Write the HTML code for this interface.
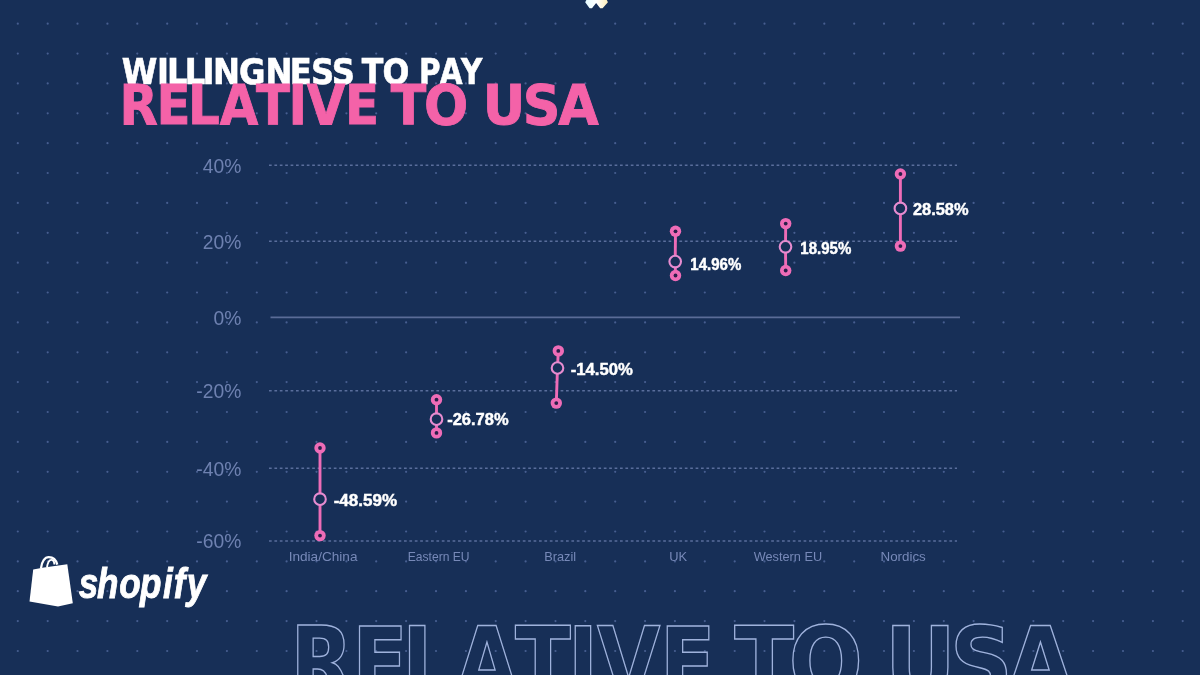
<!DOCTYPE html>
<html><head><meta charset="utf-8"><title>Willingness to pay relative to USA</title>
<style>html,body{margin:0;padding:0;background:#172f57;overflow:hidden}svg{display:block}</style></head>
<body>
<svg width="1200" height="675" viewBox="0 0 1200 675"><rect width="1200" height="675" fill="#172f57"/>
<g fill="#475e90"><circle cx="17.8" cy="23.7" r="1.1"/><circle cx="17.8" cy="53.6" r="1.1"/><circle cx="17.8" cy="83.4" r="1.1"/><circle cx="17.8" cy="113.3" r="1.1"/><circle cx="17.8" cy="143.2" r="1.1"/><circle cx="17.8" cy="173.0" r="1.1"/><circle cx="17.8" cy="202.9" r="1.1"/><circle cx="17.8" cy="232.8" r="1.1"/><circle cx="17.8" cy="262.7" r="1.1"/><circle cx="17.8" cy="292.5" r="1.1"/><circle cx="17.8" cy="322.4" r="1.1"/><circle cx="17.8" cy="352.3" r="1.1"/><circle cx="17.8" cy="382.1" r="1.1"/><circle cx="17.8" cy="412.0" r="1.1"/><circle cx="17.8" cy="441.9" r="1.1"/><circle cx="17.8" cy="471.8" r="1.1"/><circle cx="17.8" cy="501.6" r="1.1"/><circle cx="17.8" cy="531.5" r="1.1"/><circle cx="17.8" cy="561.4" r="1.1"/><circle cx="17.8" cy="591.2" r="1.1"/><circle cx="17.8" cy="621.1" r="1.1"/><circle cx="17.8" cy="651.0" r="1.1"/><circle cx="47.7" cy="23.7" r="1.1"/><circle cx="47.7" cy="53.6" r="1.1"/><circle cx="47.7" cy="83.4" r="1.1"/><circle cx="47.7" cy="113.3" r="1.1"/><circle cx="47.7" cy="143.2" r="1.1"/><circle cx="47.7" cy="173.0" r="1.1"/><circle cx="47.7" cy="202.9" r="1.1"/><circle cx="47.7" cy="232.8" r="1.1"/><circle cx="47.7" cy="262.7" r="1.1"/><circle cx="47.7" cy="292.5" r="1.1"/><circle cx="47.7" cy="322.4" r="1.1"/><circle cx="47.7" cy="352.3" r="1.1"/><circle cx="47.7" cy="382.1" r="1.1"/><circle cx="47.7" cy="412.0" r="1.1"/><circle cx="47.7" cy="441.9" r="1.1"/><circle cx="47.7" cy="471.8" r="1.1"/><circle cx="47.7" cy="501.6" r="1.1"/><circle cx="47.7" cy="531.5" r="1.1"/><circle cx="47.7" cy="561.4" r="1.1"/><circle cx="47.7" cy="591.2" r="1.1"/><circle cx="47.7" cy="621.1" r="1.1"/><circle cx="47.7" cy="651.0" r="1.1"/><circle cx="77.5" cy="23.7" r="1.1"/><circle cx="77.5" cy="53.6" r="1.1"/><circle cx="77.5" cy="83.4" r="1.1"/><circle cx="77.5" cy="113.3" r="1.1"/><circle cx="77.5" cy="143.2" r="1.1"/><circle cx="77.5" cy="173.0" r="1.1"/><circle cx="77.5" cy="202.9" r="1.1"/><circle cx="77.5" cy="232.8" r="1.1"/><circle cx="77.5" cy="262.7" r="1.1"/><circle cx="77.5" cy="292.5" r="1.1"/><circle cx="77.5" cy="322.4" r="1.1"/><circle cx="77.5" cy="352.3" r="1.1"/><circle cx="77.5" cy="382.1" r="1.1"/><circle cx="77.5" cy="412.0" r="1.1"/><circle cx="77.5" cy="441.9" r="1.1"/><circle cx="77.5" cy="471.8" r="1.1"/><circle cx="77.5" cy="501.6" r="1.1"/><circle cx="77.5" cy="531.5" r="1.1"/><circle cx="77.5" cy="561.4" r="1.1"/><circle cx="77.5" cy="591.2" r="1.1"/><circle cx="77.5" cy="621.1" r="1.1"/><circle cx="77.5" cy="651.0" r="1.1"/><circle cx="107.4" cy="23.7" r="1.1"/><circle cx="107.4" cy="53.6" r="1.1"/><circle cx="107.4" cy="83.4" r="1.1"/><circle cx="107.4" cy="113.3" r="1.1"/><circle cx="107.4" cy="143.2" r="1.1"/><circle cx="107.4" cy="173.0" r="1.1"/><circle cx="107.4" cy="202.9" r="1.1"/><circle cx="107.4" cy="232.8" r="1.1"/><circle cx="107.4" cy="262.7" r="1.1"/><circle cx="107.4" cy="292.5" r="1.1"/><circle cx="107.4" cy="322.4" r="1.1"/><circle cx="107.4" cy="352.3" r="1.1"/><circle cx="107.4" cy="382.1" r="1.1"/><circle cx="107.4" cy="412.0" r="1.1"/><circle cx="107.4" cy="441.9" r="1.1"/><circle cx="107.4" cy="471.8" r="1.1"/><circle cx="107.4" cy="501.6" r="1.1"/><circle cx="107.4" cy="531.5" r="1.1"/><circle cx="107.4" cy="561.4" r="1.1"/><circle cx="107.4" cy="591.2" r="1.1"/><circle cx="107.4" cy="621.1" r="1.1"/><circle cx="107.4" cy="651.0" r="1.1"/><circle cx="137.3" cy="23.7" r="1.1"/><circle cx="137.3" cy="53.6" r="1.1"/><circle cx="137.3" cy="83.4" r="1.1"/><circle cx="137.3" cy="113.3" r="1.1"/><circle cx="137.3" cy="143.2" r="1.1"/><circle cx="137.3" cy="173.0" r="1.1"/><circle cx="137.3" cy="202.9" r="1.1"/><circle cx="137.3" cy="232.8" r="1.1"/><circle cx="137.3" cy="262.7" r="1.1"/><circle cx="137.3" cy="292.5" r="1.1"/><circle cx="137.3" cy="322.4" r="1.1"/><circle cx="137.3" cy="352.3" r="1.1"/><circle cx="137.3" cy="382.1" r="1.1"/><circle cx="137.3" cy="412.0" r="1.1"/><circle cx="137.3" cy="441.9" r="1.1"/><circle cx="137.3" cy="471.8" r="1.1"/><circle cx="137.3" cy="501.6" r="1.1"/><circle cx="137.3" cy="531.5" r="1.1"/><circle cx="137.3" cy="561.4" r="1.1"/><circle cx="137.3" cy="591.2" r="1.1"/><circle cx="137.3" cy="621.1" r="1.1"/><circle cx="137.3" cy="651.0" r="1.1"/><circle cx="167.2" cy="23.7" r="1.1"/><circle cx="167.2" cy="53.6" r="1.1"/><circle cx="167.2" cy="83.4" r="1.1"/><circle cx="167.2" cy="113.3" r="1.1"/><circle cx="167.2" cy="143.2" r="1.1"/><circle cx="167.2" cy="173.0" r="1.1"/><circle cx="167.2" cy="202.9" r="1.1"/><circle cx="167.2" cy="232.8" r="1.1"/><circle cx="167.2" cy="262.7" r="1.1"/><circle cx="167.2" cy="292.5" r="1.1"/><circle cx="167.2" cy="322.4" r="1.1"/><circle cx="167.2" cy="352.3" r="1.1"/><circle cx="167.2" cy="382.1" r="1.1"/><circle cx="167.2" cy="412.0" r="1.1"/><circle cx="167.2" cy="441.9" r="1.1"/><circle cx="167.2" cy="471.8" r="1.1"/><circle cx="167.2" cy="501.6" r="1.1"/><circle cx="167.2" cy="531.5" r="1.1"/><circle cx="167.2" cy="561.4" r="1.1"/><circle cx="167.2" cy="591.2" r="1.1"/><circle cx="167.2" cy="621.1" r="1.1"/><circle cx="167.2" cy="651.0" r="1.1"/><circle cx="197.0" cy="23.7" r="1.1"/><circle cx="197.0" cy="53.6" r="1.1"/><circle cx="197.0" cy="83.4" r="1.1"/><circle cx="197.0" cy="113.3" r="1.1"/><circle cx="197.0" cy="143.2" r="1.1"/><circle cx="197.0" cy="173.0" r="1.1"/><circle cx="197.0" cy="202.9" r="1.1"/><circle cx="197.0" cy="232.8" r="1.1"/><circle cx="197.0" cy="262.7" r="1.1"/><circle cx="197.0" cy="292.5" r="1.1"/><circle cx="197.0" cy="322.4" r="1.1"/><circle cx="197.0" cy="352.3" r="1.1"/><circle cx="197.0" cy="382.1" r="1.1"/><circle cx="197.0" cy="412.0" r="1.1"/><circle cx="197.0" cy="441.9" r="1.1"/><circle cx="197.0" cy="471.8" r="1.1"/><circle cx="197.0" cy="501.6" r="1.1"/><circle cx="197.0" cy="531.5" r="1.1"/><circle cx="197.0" cy="561.4" r="1.1"/><circle cx="197.0" cy="591.2" r="1.1"/><circle cx="197.0" cy="621.1" r="1.1"/><circle cx="197.0" cy="651.0" r="1.1"/><circle cx="226.9" cy="23.7" r="1.1"/><circle cx="226.9" cy="53.6" r="1.1"/><circle cx="226.9" cy="83.4" r="1.1"/><circle cx="226.9" cy="113.3" r="1.1"/><circle cx="226.9" cy="143.2" r="1.1"/><circle cx="226.9" cy="173.0" r="1.1"/><circle cx="226.9" cy="202.9" r="1.1"/><circle cx="226.9" cy="232.8" r="1.1"/><circle cx="226.9" cy="262.7" r="1.1"/><circle cx="226.9" cy="292.5" r="1.1"/><circle cx="226.9" cy="322.4" r="1.1"/><circle cx="226.9" cy="352.3" r="1.1"/><circle cx="226.9" cy="382.1" r="1.1"/><circle cx="226.9" cy="412.0" r="1.1"/><circle cx="226.9" cy="441.9" r="1.1"/><circle cx="226.9" cy="471.8" r="1.1"/><circle cx="226.9" cy="501.6" r="1.1"/><circle cx="226.9" cy="531.5" r="1.1"/><circle cx="226.9" cy="561.4" r="1.1"/><circle cx="226.9" cy="591.2" r="1.1"/><circle cx="226.9" cy="621.1" r="1.1"/><circle cx="226.9" cy="651.0" r="1.1"/><circle cx="256.8" cy="23.7" r="1.1"/><circle cx="256.8" cy="53.6" r="1.1"/><circle cx="256.8" cy="83.4" r="1.1"/><circle cx="256.8" cy="113.3" r="1.1"/><circle cx="256.8" cy="143.2" r="1.1"/><circle cx="256.8" cy="173.0" r="1.1"/><circle cx="256.8" cy="202.9" r="1.1"/><circle cx="256.8" cy="232.8" r="1.1"/><circle cx="256.8" cy="262.7" r="1.1"/><circle cx="256.8" cy="292.5" r="1.1"/><circle cx="256.8" cy="322.4" r="1.1"/><circle cx="256.8" cy="352.3" r="1.1"/><circle cx="256.8" cy="382.1" r="1.1"/><circle cx="256.8" cy="412.0" r="1.1"/><circle cx="256.8" cy="441.9" r="1.1"/><circle cx="256.8" cy="471.8" r="1.1"/><circle cx="256.8" cy="501.6" r="1.1"/><circle cx="256.8" cy="531.5" r="1.1"/><circle cx="256.8" cy="561.4" r="1.1"/><circle cx="256.8" cy="591.2" r="1.1"/><circle cx="256.8" cy="621.1" r="1.1"/><circle cx="256.8" cy="651.0" r="1.1"/><circle cx="286.6" cy="23.7" r="1.1"/><circle cx="286.6" cy="53.6" r="1.1"/><circle cx="286.6" cy="83.4" r="1.1"/><circle cx="286.6" cy="113.3" r="1.1"/><circle cx="286.6" cy="143.2" r="1.1"/><circle cx="286.6" cy="173.0" r="1.1"/><circle cx="286.6" cy="202.9" r="1.1"/><circle cx="286.6" cy="232.8" r="1.1"/><circle cx="286.6" cy="262.7" r="1.1"/><circle cx="286.6" cy="292.5" r="1.1"/><circle cx="286.6" cy="322.4" r="1.1"/><circle cx="286.6" cy="352.3" r="1.1"/><circle cx="286.6" cy="382.1" r="1.1"/><circle cx="286.6" cy="412.0" r="1.1"/><circle cx="286.6" cy="441.9" r="1.1"/><circle cx="286.6" cy="471.8" r="1.1"/><circle cx="286.6" cy="501.6" r="1.1"/><circle cx="286.6" cy="531.5" r="1.1"/><circle cx="286.6" cy="561.4" r="1.1"/><circle cx="286.6" cy="591.2" r="1.1"/><circle cx="286.6" cy="621.1" r="1.1"/><circle cx="286.6" cy="651.0" r="1.1"/><circle cx="316.5" cy="23.7" r="1.1"/><circle cx="316.5" cy="53.6" r="1.1"/><circle cx="316.5" cy="83.4" r="1.1"/><circle cx="316.5" cy="113.3" r="1.1"/><circle cx="316.5" cy="143.2" r="1.1"/><circle cx="316.5" cy="173.0" r="1.1"/><circle cx="316.5" cy="202.9" r="1.1"/><circle cx="316.5" cy="232.8" r="1.1"/><circle cx="316.5" cy="262.7" r="1.1"/><circle cx="316.5" cy="292.5" r="1.1"/><circle cx="316.5" cy="322.4" r="1.1"/><circle cx="316.5" cy="352.3" r="1.1"/><circle cx="316.5" cy="382.1" r="1.1"/><circle cx="316.5" cy="412.0" r="1.1"/><circle cx="316.5" cy="441.9" r="1.1"/><circle cx="316.5" cy="471.8" r="1.1"/><circle cx="316.5" cy="501.6" r="1.1"/><circle cx="316.5" cy="531.5" r="1.1"/><circle cx="316.5" cy="561.4" r="1.1"/><circle cx="316.5" cy="591.2" r="1.1"/><circle cx="316.5" cy="621.1" r="1.1"/><circle cx="316.5" cy="651.0" r="1.1"/><circle cx="346.4" cy="23.7" r="1.1"/><circle cx="346.4" cy="53.6" r="1.1"/><circle cx="346.4" cy="83.4" r="1.1"/><circle cx="346.4" cy="113.3" r="1.1"/><circle cx="346.4" cy="143.2" r="1.1"/><circle cx="346.4" cy="173.0" r="1.1"/><circle cx="346.4" cy="202.9" r="1.1"/><circle cx="346.4" cy="232.8" r="1.1"/><circle cx="346.4" cy="262.7" r="1.1"/><circle cx="346.4" cy="292.5" r="1.1"/><circle cx="346.4" cy="322.4" r="1.1"/><circle cx="346.4" cy="352.3" r="1.1"/><circle cx="346.4" cy="382.1" r="1.1"/><circle cx="346.4" cy="412.0" r="1.1"/><circle cx="346.4" cy="441.9" r="1.1"/><circle cx="346.4" cy="471.8" r="1.1"/><circle cx="346.4" cy="501.6" r="1.1"/><circle cx="346.4" cy="531.5" r="1.1"/><circle cx="346.4" cy="561.4" r="1.1"/><circle cx="346.4" cy="591.2" r="1.1"/><circle cx="346.4" cy="621.1" r="1.1"/><circle cx="346.4" cy="651.0" r="1.1"/><circle cx="376.2" cy="23.7" r="1.1"/><circle cx="376.2" cy="53.6" r="1.1"/><circle cx="376.2" cy="83.4" r="1.1"/><circle cx="376.2" cy="113.3" r="1.1"/><circle cx="376.2" cy="143.2" r="1.1"/><circle cx="376.2" cy="173.0" r="1.1"/><circle cx="376.2" cy="202.9" r="1.1"/><circle cx="376.2" cy="232.8" r="1.1"/><circle cx="376.2" cy="262.7" r="1.1"/><circle cx="376.2" cy="292.5" r="1.1"/><circle cx="376.2" cy="322.4" r="1.1"/><circle cx="376.2" cy="352.3" r="1.1"/><circle cx="376.2" cy="382.1" r="1.1"/><circle cx="376.2" cy="412.0" r="1.1"/><circle cx="376.2" cy="441.9" r="1.1"/><circle cx="376.2" cy="471.8" r="1.1"/><circle cx="376.2" cy="501.6" r="1.1"/><circle cx="376.2" cy="531.5" r="1.1"/><circle cx="376.2" cy="561.4" r="1.1"/><circle cx="376.2" cy="591.2" r="1.1"/><circle cx="376.2" cy="621.1" r="1.1"/><circle cx="376.2" cy="651.0" r="1.1"/><circle cx="406.1" cy="23.7" r="1.1"/><circle cx="406.1" cy="53.6" r="1.1"/><circle cx="406.1" cy="83.4" r="1.1"/><circle cx="406.1" cy="113.3" r="1.1"/><circle cx="406.1" cy="143.2" r="1.1"/><circle cx="406.1" cy="173.0" r="1.1"/><circle cx="406.1" cy="202.9" r="1.1"/><circle cx="406.1" cy="232.8" r="1.1"/><circle cx="406.1" cy="262.7" r="1.1"/><circle cx="406.1" cy="292.5" r="1.1"/><circle cx="406.1" cy="322.4" r="1.1"/><circle cx="406.1" cy="352.3" r="1.1"/><circle cx="406.1" cy="382.1" r="1.1"/><circle cx="406.1" cy="412.0" r="1.1"/><circle cx="406.1" cy="441.9" r="1.1"/><circle cx="406.1" cy="471.8" r="1.1"/><circle cx="406.1" cy="501.6" r="1.1"/><circle cx="406.1" cy="531.5" r="1.1"/><circle cx="406.1" cy="561.4" r="1.1"/><circle cx="406.1" cy="591.2" r="1.1"/><circle cx="406.1" cy="621.1" r="1.1"/><circle cx="406.1" cy="651.0" r="1.1"/><circle cx="436.0" cy="23.7" r="1.1"/><circle cx="436.0" cy="53.6" r="1.1"/><circle cx="436.0" cy="83.4" r="1.1"/><circle cx="436.0" cy="113.3" r="1.1"/><circle cx="436.0" cy="143.2" r="1.1"/><circle cx="436.0" cy="173.0" r="1.1"/><circle cx="436.0" cy="202.9" r="1.1"/><circle cx="436.0" cy="232.8" r="1.1"/><circle cx="436.0" cy="262.7" r="1.1"/><circle cx="436.0" cy="292.5" r="1.1"/><circle cx="436.0" cy="322.4" r="1.1"/><circle cx="436.0" cy="352.3" r="1.1"/><circle cx="436.0" cy="382.1" r="1.1"/><circle cx="436.0" cy="412.0" r="1.1"/><circle cx="436.0" cy="441.9" r="1.1"/><circle cx="436.0" cy="471.8" r="1.1"/><circle cx="436.0" cy="501.6" r="1.1"/><circle cx="436.0" cy="531.5" r="1.1"/><circle cx="436.0" cy="561.4" r="1.1"/><circle cx="436.0" cy="591.2" r="1.1"/><circle cx="436.0" cy="621.1" r="1.1"/><circle cx="436.0" cy="651.0" r="1.1"/><circle cx="465.9" cy="23.7" r="1.1"/><circle cx="465.9" cy="53.6" r="1.1"/><circle cx="465.9" cy="83.4" r="1.1"/><circle cx="465.9" cy="113.3" r="1.1"/><circle cx="465.9" cy="143.2" r="1.1"/><circle cx="465.9" cy="173.0" r="1.1"/><circle cx="465.9" cy="202.9" r="1.1"/><circle cx="465.9" cy="232.8" r="1.1"/><circle cx="465.9" cy="262.7" r="1.1"/><circle cx="465.9" cy="292.5" r="1.1"/><circle cx="465.9" cy="322.4" r="1.1"/><circle cx="465.9" cy="352.3" r="1.1"/><circle cx="465.9" cy="382.1" r="1.1"/><circle cx="465.9" cy="412.0" r="1.1"/><circle cx="465.9" cy="441.9" r="1.1"/><circle cx="465.9" cy="471.8" r="1.1"/><circle cx="465.9" cy="501.6" r="1.1"/><circle cx="465.9" cy="531.5" r="1.1"/><circle cx="465.9" cy="561.4" r="1.1"/><circle cx="465.9" cy="591.2" r="1.1"/><circle cx="465.9" cy="621.1" r="1.1"/><circle cx="465.9" cy="651.0" r="1.1"/><circle cx="495.7" cy="23.7" r="1.1"/><circle cx="495.7" cy="53.6" r="1.1"/><circle cx="495.7" cy="83.4" r="1.1"/><circle cx="495.7" cy="113.3" r="1.1"/><circle cx="495.7" cy="143.2" r="1.1"/><circle cx="495.7" cy="173.0" r="1.1"/><circle cx="495.7" cy="202.9" r="1.1"/><circle cx="495.7" cy="232.8" r="1.1"/><circle cx="495.7" cy="262.7" r="1.1"/><circle cx="495.7" cy="292.5" r="1.1"/><circle cx="495.7" cy="322.4" r="1.1"/><circle cx="495.7" cy="352.3" r="1.1"/><circle cx="495.7" cy="382.1" r="1.1"/><circle cx="495.7" cy="412.0" r="1.1"/><circle cx="495.7" cy="441.9" r="1.1"/><circle cx="495.7" cy="471.8" r="1.1"/><circle cx="495.7" cy="501.6" r="1.1"/><circle cx="495.7" cy="531.5" r="1.1"/><circle cx="495.7" cy="561.4" r="1.1"/><circle cx="495.7" cy="591.2" r="1.1"/><circle cx="495.7" cy="621.1" r="1.1"/><circle cx="495.7" cy="651.0" r="1.1"/><circle cx="525.6" cy="23.7" r="1.1"/><circle cx="525.6" cy="53.6" r="1.1"/><circle cx="525.6" cy="83.4" r="1.1"/><circle cx="525.6" cy="113.3" r="1.1"/><circle cx="525.6" cy="143.2" r="1.1"/><circle cx="525.6" cy="173.0" r="1.1"/><circle cx="525.6" cy="202.9" r="1.1"/><circle cx="525.6" cy="232.8" r="1.1"/><circle cx="525.6" cy="262.7" r="1.1"/><circle cx="525.6" cy="292.5" r="1.1"/><circle cx="525.6" cy="322.4" r="1.1"/><circle cx="525.6" cy="352.3" r="1.1"/><circle cx="525.6" cy="382.1" r="1.1"/><circle cx="525.6" cy="412.0" r="1.1"/><circle cx="525.6" cy="441.9" r="1.1"/><circle cx="525.6" cy="471.8" r="1.1"/><circle cx="525.6" cy="501.6" r="1.1"/><circle cx="525.6" cy="531.5" r="1.1"/><circle cx="525.6" cy="561.4" r="1.1"/><circle cx="525.6" cy="591.2" r="1.1"/><circle cx="525.6" cy="621.1" r="1.1"/><circle cx="525.6" cy="651.0" r="1.1"/><circle cx="555.5" cy="23.7" r="1.1"/><circle cx="555.5" cy="53.6" r="1.1"/><circle cx="555.5" cy="83.4" r="1.1"/><circle cx="555.5" cy="113.3" r="1.1"/><circle cx="555.5" cy="143.2" r="1.1"/><circle cx="555.5" cy="173.0" r="1.1"/><circle cx="555.5" cy="202.9" r="1.1"/><circle cx="555.5" cy="232.8" r="1.1"/><circle cx="555.5" cy="262.7" r="1.1"/><circle cx="555.5" cy="292.5" r="1.1"/><circle cx="555.5" cy="322.4" r="1.1"/><circle cx="555.5" cy="352.3" r="1.1"/><circle cx="555.5" cy="382.1" r="1.1"/><circle cx="555.5" cy="412.0" r="1.1"/><circle cx="555.5" cy="441.9" r="1.1"/><circle cx="555.5" cy="471.8" r="1.1"/><circle cx="555.5" cy="501.6" r="1.1"/><circle cx="555.5" cy="531.5" r="1.1"/><circle cx="555.5" cy="561.4" r="1.1"/><circle cx="555.5" cy="591.2" r="1.1"/><circle cx="555.5" cy="621.1" r="1.1"/><circle cx="555.5" cy="651.0" r="1.1"/><circle cx="585.3" cy="23.7" r="1.1"/><circle cx="585.3" cy="53.6" r="1.1"/><circle cx="585.3" cy="83.4" r="1.1"/><circle cx="585.3" cy="113.3" r="1.1"/><circle cx="585.3" cy="143.2" r="1.1"/><circle cx="585.3" cy="173.0" r="1.1"/><circle cx="585.3" cy="202.9" r="1.1"/><circle cx="585.3" cy="232.8" r="1.1"/><circle cx="585.3" cy="262.7" r="1.1"/><circle cx="585.3" cy="292.5" r="1.1"/><circle cx="585.3" cy="322.4" r="1.1"/><circle cx="585.3" cy="352.3" r="1.1"/><circle cx="585.3" cy="382.1" r="1.1"/><circle cx="585.3" cy="412.0" r="1.1"/><circle cx="585.3" cy="441.9" r="1.1"/><circle cx="585.3" cy="471.8" r="1.1"/><circle cx="585.3" cy="501.6" r="1.1"/><circle cx="585.3" cy="531.5" r="1.1"/><circle cx="585.3" cy="561.4" r="1.1"/><circle cx="585.3" cy="591.2" r="1.1"/><circle cx="585.3" cy="621.1" r="1.1"/><circle cx="585.3" cy="651.0" r="1.1"/><circle cx="615.2" cy="23.7" r="1.1"/><circle cx="615.2" cy="53.6" r="1.1"/><circle cx="615.2" cy="83.4" r="1.1"/><circle cx="615.2" cy="113.3" r="1.1"/><circle cx="615.2" cy="143.2" r="1.1"/><circle cx="615.2" cy="173.0" r="1.1"/><circle cx="615.2" cy="202.9" r="1.1"/><circle cx="615.2" cy="232.8" r="1.1"/><circle cx="615.2" cy="262.7" r="1.1"/><circle cx="615.2" cy="292.5" r="1.1"/><circle cx="615.2" cy="322.4" r="1.1"/><circle cx="615.2" cy="352.3" r="1.1"/><circle cx="615.2" cy="382.1" r="1.1"/><circle cx="615.2" cy="412.0" r="1.1"/><circle cx="615.2" cy="441.9" r="1.1"/><circle cx="615.2" cy="471.8" r="1.1"/><circle cx="615.2" cy="501.6" r="1.1"/><circle cx="615.2" cy="531.5" r="1.1"/><circle cx="615.2" cy="561.4" r="1.1"/><circle cx="615.2" cy="591.2" r="1.1"/><circle cx="615.2" cy="621.1" r="1.1"/><circle cx="615.2" cy="651.0" r="1.1"/><circle cx="645.1" cy="23.7" r="1.1"/><circle cx="645.1" cy="53.6" r="1.1"/><circle cx="645.1" cy="83.4" r="1.1"/><circle cx="645.1" cy="113.3" r="1.1"/><circle cx="645.1" cy="143.2" r="1.1"/><circle cx="645.1" cy="173.0" r="1.1"/><circle cx="645.1" cy="202.9" r="1.1"/><circle cx="645.1" cy="232.8" r="1.1"/><circle cx="645.1" cy="262.7" r="1.1"/><circle cx="645.1" cy="292.5" r="1.1"/><circle cx="645.1" cy="322.4" r="1.1"/><circle cx="645.1" cy="352.3" r="1.1"/><circle cx="645.1" cy="382.1" r="1.1"/><circle cx="645.1" cy="412.0" r="1.1"/><circle cx="645.1" cy="441.9" r="1.1"/><circle cx="645.1" cy="471.8" r="1.1"/><circle cx="645.1" cy="501.6" r="1.1"/><circle cx="645.1" cy="531.5" r="1.1"/><circle cx="645.1" cy="561.4" r="1.1"/><circle cx="645.1" cy="591.2" r="1.1"/><circle cx="645.1" cy="621.1" r="1.1"/><circle cx="645.1" cy="651.0" r="1.1"/><circle cx="674.9" cy="23.7" r="1.1"/><circle cx="674.9" cy="53.6" r="1.1"/><circle cx="674.9" cy="83.4" r="1.1"/><circle cx="674.9" cy="113.3" r="1.1"/><circle cx="674.9" cy="143.2" r="1.1"/><circle cx="674.9" cy="173.0" r="1.1"/><circle cx="674.9" cy="202.9" r="1.1"/><circle cx="674.9" cy="232.8" r="1.1"/><circle cx="674.9" cy="262.7" r="1.1"/><circle cx="674.9" cy="292.5" r="1.1"/><circle cx="674.9" cy="322.4" r="1.1"/><circle cx="674.9" cy="352.3" r="1.1"/><circle cx="674.9" cy="382.1" r="1.1"/><circle cx="674.9" cy="412.0" r="1.1"/><circle cx="674.9" cy="441.9" r="1.1"/><circle cx="674.9" cy="471.8" r="1.1"/><circle cx="674.9" cy="501.6" r="1.1"/><circle cx="674.9" cy="531.5" r="1.1"/><circle cx="674.9" cy="561.4" r="1.1"/><circle cx="674.9" cy="591.2" r="1.1"/><circle cx="674.9" cy="621.1" r="1.1"/><circle cx="674.9" cy="651.0" r="1.1"/><circle cx="704.8" cy="23.7" r="1.1"/><circle cx="704.8" cy="53.6" r="1.1"/><circle cx="704.8" cy="83.4" r="1.1"/><circle cx="704.8" cy="113.3" r="1.1"/><circle cx="704.8" cy="143.2" r="1.1"/><circle cx="704.8" cy="173.0" r="1.1"/><circle cx="704.8" cy="202.9" r="1.1"/><circle cx="704.8" cy="232.8" r="1.1"/><circle cx="704.8" cy="262.7" r="1.1"/><circle cx="704.8" cy="292.5" r="1.1"/><circle cx="704.8" cy="322.4" r="1.1"/><circle cx="704.8" cy="352.3" r="1.1"/><circle cx="704.8" cy="382.1" r="1.1"/><circle cx="704.8" cy="412.0" r="1.1"/><circle cx="704.8" cy="441.9" r="1.1"/><circle cx="704.8" cy="471.8" r="1.1"/><circle cx="704.8" cy="501.6" r="1.1"/><circle cx="704.8" cy="531.5" r="1.1"/><circle cx="704.8" cy="561.4" r="1.1"/><circle cx="704.8" cy="591.2" r="1.1"/><circle cx="704.8" cy="621.1" r="1.1"/><circle cx="704.8" cy="651.0" r="1.1"/><circle cx="734.7" cy="23.7" r="1.1"/><circle cx="734.7" cy="53.6" r="1.1"/><circle cx="734.7" cy="83.4" r="1.1"/><circle cx="734.7" cy="113.3" r="1.1"/><circle cx="734.7" cy="143.2" r="1.1"/><circle cx="734.7" cy="173.0" r="1.1"/><circle cx="734.7" cy="202.9" r="1.1"/><circle cx="734.7" cy="232.8" r="1.1"/><circle cx="734.7" cy="262.7" r="1.1"/><circle cx="734.7" cy="292.5" r="1.1"/><circle cx="734.7" cy="322.4" r="1.1"/><circle cx="734.7" cy="352.3" r="1.1"/><circle cx="734.7" cy="382.1" r="1.1"/><circle cx="734.7" cy="412.0" r="1.1"/><circle cx="734.7" cy="441.9" r="1.1"/><circle cx="734.7" cy="471.8" r="1.1"/><circle cx="734.7" cy="501.6" r="1.1"/><circle cx="734.7" cy="531.5" r="1.1"/><circle cx="734.7" cy="561.4" r="1.1"/><circle cx="734.7" cy="591.2" r="1.1"/><circle cx="734.7" cy="621.1" r="1.1"/><circle cx="734.7" cy="651.0" r="1.1"/><circle cx="764.5" cy="23.7" r="1.1"/><circle cx="764.5" cy="53.6" r="1.1"/><circle cx="764.5" cy="83.4" r="1.1"/><circle cx="764.5" cy="113.3" r="1.1"/><circle cx="764.5" cy="143.2" r="1.1"/><circle cx="764.5" cy="173.0" r="1.1"/><circle cx="764.5" cy="202.9" r="1.1"/><circle cx="764.5" cy="232.8" r="1.1"/><circle cx="764.5" cy="262.7" r="1.1"/><circle cx="764.5" cy="292.5" r="1.1"/><circle cx="764.5" cy="322.4" r="1.1"/><circle cx="764.5" cy="352.3" r="1.1"/><circle cx="764.5" cy="382.1" r="1.1"/><circle cx="764.5" cy="412.0" r="1.1"/><circle cx="764.5" cy="441.9" r="1.1"/><circle cx="764.5" cy="471.8" r="1.1"/><circle cx="764.5" cy="501.6" r="1.1"/><circle cx="764.5" cy="531.5" r="1.1"/><circle cx="764.5" cy="561.4" r="1.1"/><circle cx="764.5" cy="591.2" r="1.1"/><circle cx="764.5" cy="621.1" r="1.1"/><circle cx="764.5" cy="651.0" r="1.1"/><circle cx="794.4" cy="23.7" r="1.1"/><circle cx="794.4" cy="53.6" r="1.1"/><circle cx="794.4" cy="83.4" r="1.1"/><circle cx="794.4" cy="113.3" r="1.1"/><circle cx="794.4" cy="143.2" r="1.1"/><circle cx="794.4" cy="173.0" r="1.1"/><circle cx="794.4" cy="202.9" r="1.1"/><circle cx="794.4" cy="232.8" r="1.1"/><circle cx="794.4" cy="262.7" r="1.1"/><circle cx="794.4" cy="292.5" r="1.1"/><circle cx="794.4" cy="322.4" r="1.1"/><circle cx="794.4" cy="352.3" r="1.1"/><circle cx="794.4" cy="382.1" r="1.1"/><circle cx="794.4" cy="412.0" r="1.1"/><circle cx="794.4" cy="441.9" r="1.1"/><circle cx="794.4" cy="471.8" r="1.1"/><circle cx="794.4" cy="501.6" r="1.1"/><circle cx="794.4" cy="531.5" r="1.1"/><circle cx="794.4" cy="561.4" r="1.1"/><circle cx="794.4" cy="591.2" r="1.1"/><circle cx="794.4" cy="621.1" r="1.1"/><circle cx="794.4" cy="651.0" r="1.1"/><circle cx="824.3" cy="23.7" r="1.1"/><circle cx="824.3" cy="53.6" r="1.1"/><circle cx="824.3" cy="83.4" r="1.1"/><circle cx="824.3" cy="113.3" r="1.1"/><circle cx="824.3" cy="143.2" r="1.1"/><circle cx="824.3" cy="173.0" r="1.1"/><circle cx="824.3" cy="202.9" r="1.1"/><circle cx="824.3" cy="232.8" r="1.1"/><circle cx="824.3" cy="262.7" r="1.1"/><circle cx="824.3" cy="292.5" r="1.1"/><circle cx="824.3" cy="322.4" r="1.1"/><circle cx="824.3" cy="352.3" r="1.1"/><circle cx="824.3" cy="382.1" r="1.1"/><circle cx="824.3" cy="412.0" r="1.1"/><circle cx="824.3" cy="441.9" r="1.1"/><circle cx="824.3" cy="471.8" r="1.1"/><circle cx="824.3" cy="501.6" r="1.1"/><circle cx="824.3" cy="531.5" r="1.1"/><circle cx="824.3" cy="561.4" r="1.1"/><circle cx="824.3" cy="591.2" r="1.1"/><circle cx="824.3" cy="621.1" r="1.1"/><circle cx="824.3" cy="651.0" r="1.1"/><circle cx="854.2" cy="23.7" r="1.1"/><circle cx="854.2" cy="53.6" r="1.1"/><circle cx="854.2" cy="83.4" r="1.1"/><circle cx="854.2" cy="113.3" r="1.1"/><circle cx="854.2" cy="143.2" r="1.1"/><circle cx="854.2" cy="173.0" r="1.1"/><circle cx="854.2" cy="202.9" r="1.1"/><circle cx="854.2" cy="232.8" r="1.1"/><circle cx="854.2" cy="262.7" r="1.1"/><circle cx="854.2" cy="292.5" r="1.1"/><circle cx="854.2" cy="322.4" r="1.1"/><circle cx="854.2" cy="352.3" r="1.1"/><circle cx="854.2" cy="382.1" r="1.1"/><circle cx="854.2" cy="412.0" r="1.1"/><circle cx="854.2" cy="441.9" r="1.1"/><circle cx="854.2" cy="471.8" r="1.1"/><circle cx="854.2" cy="501.6" r="1.1"/><circle cx="854.2" cy="531.5" r="1.1"/><circle cx="854.2" cy="561.4" r="1.1"/><circle cx="854.2" cy="591.2" r="1.1"/><circle cx="854.2" cy="621.1" r="1.1"/><circle cx="854.2" cy="651.0" r="1.1"/><circle cx="884.0" cy="23.7" r="1.1"/><circle cx="884.0" cy="53.6" r="1.1"/><circle cx="884.0" cy="83.4" r="1.1"/><circle cx="884.0" cy="113.3" r="1.1"/><circle cx="884.0" cy="143.2" r="1.1"/><circle cx="884.0" cy="173.0" r="1.1"/><circle cx="884.0" cy="202.9" r="1.1"/><circle cx="884.0" cy="232.8" r="1.1"/><circle cx="884.0" cy="262.7" r="1.1"/><circle cx="884.0" cy="292.5" r="1.1"/><circle cx="884.0" cy="322.4" r="1.1"/><circle cx="884.0" cy="352.3" r="1.1"/><circle cx="884.0" cy="382.1" r="1.1"/><circle cx="884.0" cy="412.0" r="1.1"/><circle cx="884.0" cy="441.9" r="1.1"/><circle cx="884.0" cy="471.8" r="1.1"/><circle cx="884.0" cy="501.6" r="1.1"/><circle cx="884.0" cy="531.5" r="1.1"/><circle cx="884.0" cy="561.4" r="1.1"/><circle cx="884.0" cy="591.2" r="1.1"/><circle cx="884.0" cy="621.1" r="1.1"/><circle cx="884.0" cy="651.0" r="1.1"/><circle cx="913.9" cy="23.7" r="1.1"/><circle cx="913.9" cy="53.6" r="1.1"/><circle cx="913.9" cy="83.4" r="1.1"/><circle cx="913.9" cy="113.3" r="1.1"/><circle cx="913.9" cy="143.2" r="1.1"/><circle cx="913.9" cy="173.0" r="1.1"/><circle cx="913.9" cy="202.9" r="1.1"/><circle cx="913.9" cy="232.8" r="1.1"/><circle cx="913.9" cy="262.7" r="1.1"/><circle cx="913.9" cy="292.5" r="1.1"/><circle cx="913.9" cy="322.4" r="1.1"/><circle cx="913.9" cy="352.3" r="1.1"/><circle cx="913.9" cy="382.1" r="1.1"/><circle cx="913.9" cy="412.0" r="1.1"/><circle cx="913.9" cy="441.9" r="1.1"/><circle cx="913.9" cy="471.8" r="1.1"/><circle cx="913.9" cy="501.6" r="1.1"/><circle cx="913.9" cy="531.5" r="1.1"/><circle cx="913.9" cy="561.4" r="1.1"/><circle cx="913.9" cy="591.2" r="1.1"/><circle cx="913.9" cy="621.1" r="1.1"/><circle cx="913.9" cy="651.0" r="1.1"/><circle cx="943.8" cy="23.7" r="1.1"/><circle cx="943.8" cy="53.6" r="1.1"/><circle cx="943.8" cy="83.4" r="1.1"/><circle cx="943.8" cy="113.3" r="1.1"/><circle cx="943.8" cy="143.2" r="1.1"/><circle cx="943.8" cy="173.0" r="1.1"/><circle cx="943.8" cy="202.9" r="1.1"/><circle cx="943.8" cy="232.8" r="1.1"/><circle cx="943.8" cy="262.7" r="1.1"/><circle cx="943.8" cy="292.5" r="1.1"/><circle cx="943.8" cy="322.4" r="1.1"/><circle cx="943.8" cy="352.3" r="1.1"/><circle cx="943.8" cy="382.1" r="1.1"/><circle cx="943.8" cy="412.0" r="1.1"/><circle cx="943.8" cy="441.9" r="1.1"/><circle cx="943.8" cy="471.8" r="1.1"/><circle cx="943.8" cy="501.6" r="1.1"/><circle cx="943.8" cy="531.5" r="1.1"/><circle cx="943.8" cy="561.4" r="1.1"/><circle cx="943.8" cy="591.2" r="1.1"/><circle cx="943.8" cy="621.1" r="1.1"/><circle cx="943.8" cy="651.0" r="1.1"/><circle cx="973.6" cy="23.7" r="1.1"/><circle cx="973.6" cy="53.6" r="1.1"/><circle cx="973.6" cy="83.4" r="1.1"/><circle cx="973.6" cy="113.3" r="1.1"/><circle cx="973.6" cy="143.2" r="1.1"/><circle cx="973.6" cy="173.0" r="1.1"/><circle cx="973.6" cy="202.9" r="1.1"/><circle cx="973.6" cy="232.8" r="1.1"/><circle cx="973.6" cy="262.7" r="1.1"/><circle cx="973.6" cy="292.5" r="1.1"/><circle cx="973.6" cy="322.4" r="1.1"/><circle cx="973.6" cy="352.3" r="1.1"/><circle cx="973.6" cy="382.1" r="1.1"/><circle cx="973.6" cy="412.0" r="1.1"/><circle cx="973.6" cy="441.9" r="1.1"/><circle cx="973.6" cy="471.8" r="1.1"/><circle cx="973.6" cy="501.6" r="1.1"/><circle cx="973.6" cy="531.5" r="1.1"/><circle cx="973.6" cy="561.4" r="1.1"/><circle cx="973.6" cy="591.2" r="1.1"/><circle cx="973.6" cy="621.1" r="1.1"/><circle cx="973.6" cy="651.0" r="1.1"/><circle cx="1003.5" cy="23.7" r="1.1"/><circle cx="1003.5" cy="53.6" r="1.1"/><circle cx="1003.5" cy="83.4" r="1.1"/><circle cx="1003.5" cy="113.3" r="1.1"/><circle cx="1003.5" cy="143.2" r="1.1"/><circle cx="1003.5" cy="173.0" r="1.1"/><circle cx="1003.5" cy="202.9" r="1.1"/><circle cx="1003.5" cy="232.8" r="1.1"/><circle cx="1003.5" cy="262.7" r="1.1"/><circle cx="1003.5" cy="292.5" r="1.1"/><circle cx="1003.5" cy="322.4" r="1.1"/><circle cx="1003.5" cy="352.3" r="1.1"/><circle cx="1003.5" cy="382.1" r="1.1"/><circle cx="1003.5" cy="412.0" r="1.1"/><circle cx="1003.5" cy="441.9" r="1.1"/><circle cx="1003.5" cy="471.8" r="1.1"/><circle cx="1003.5" cy="501.6" r="1.1"/><circle cx="1003.5" cy="531.5" r="1.1"/><circle cx="1003.5" cy="561.4" r="1.1"/><circle cx="1003.5" cy="591.2" r="1.1"/><circle cx="1003.5" cy="621.1" r="1.1"/><circle cx="1003.5" cy="651.0" r="1.1"/><circle cx="1033.4" cy="23.7" r="1.1"/><circle cx="1033.4" cy="53.6" r="1.1"/><circle cx="1033.4" cy="83.4" r="1.1"/><circle cx="1033.4" cy="113.3" r="1.1"/><circle cx="1033.4" cy="143.2" r="1.1"/><circle cx="1033.4" cy="173.0" r="1.1"/><circle cx="1033.4" cy="202.9" r="1.1"/><circle cx="1033.4" cy="232.8" r="1.1"/><circle cx="1033.4" cy="262.7" r="1.1"/><circle cx="1033.4" cy="292.5" r="1.1"/><circle cx="1033.4" cy="322.4" r="1.1"/><circle cx="1033.4" cy="352.3" r="1.1"/><circle cx="1033.4" cy="382.1" r="1.1"/><circle cx="1033.4" cy="412.0" r="1.1"/><circle cx="1033.4" cy="441.9" r="1.1"/><circle cx="1033.4" cy="471.8" r="1.1"/><circle cx="1033.4" cy="501.6" r="1.1"/><circle cx="1033.4" cy="531.5" r="1.1"/><circle cx="1033.4" cy="561.4" r="1.1"/><circle cx="1033.4" cy="591.2" r="1.1"/><circle cx="1033.4" cy="621.1" r="1.1"/><circle cx="1033.4" cy="651.0" r="1.1"/><circle cx="1063.2" cy="23.7" r="1.1"/><circle cx="1063.2" cy="53.6" r="1.1"/><circle cx="1063.2" cy="83.4" r="1.1"/><circle cx="1063.2" cy="113.3" r="1.1"/><circle cx="1063.2" cy="143.2" r="1.1"/><circle cx="1063.2" cy="173.0" r="1.1"/><circle cx="1063.2" cy="202.9" r="1.1"/><circle cx="1063.2" cy="232.8" r="1.1"/><circle cx="1063.2" cy="262.7" r="1.1"/><circle cx="1063.2" cy="292.5" r="1.1"/><circle cx="1063.2" cy="322.4" r="1.1"/><circle cx="1063.2" cy="352.3" r="1.1"/><circle cx="1063.2" cy="382.1" r="1.1"/><circle cx="1063.2" cy="412.0" r="1.1"/><circle cx="1063.2" cy="441.9" r="1.1"/><circle cx="1063.2" cy="471.8" r="1.1"/><circle cx="1063.2" cy="501.6" r="1.1"/><circle cx="1063.2" cy="531.5" r="1.1"/><circle cx="1063.2" cy="561.4" r="1.1"/><circle cx="1063.2" cy="591.2" r="1.1"/><circle cx="1063.2" cy="621.1" r="1.1"/><circle cx="1063.2" cy="651.0" r="1.1"/><circle cx="1093.1" cy="23.7" r="1.1"/><circle cx="1093.1" cy="53.6" r="1.1"/><circle cx="1093.1" cy="83.4" r="1.1"/><circle cx="1093.1" cy="113.3" r="1.1"/><circle cx="1093.1" cy="143.2" r="1.1"/><circle cx="1093.1" cy="173.0" r="1.1"/><circle cx="1093.1" cy="202.9" r="1.1"/><circle cx="1093.1" cy="232.8" r="1.1"/><circle cx="1093.1" cy="262.7" r="1.1"/><circle cx="1093.1" cy="292.5" r="1.1"/><circle cx="1093.1" cy="322.4" r="1.1"/><circle cx="1093.1" cy="352.3" r="1.1"/><circle cx="1093.1" cy="382.1" r="1.1"/><circle cx="1093.1" cy="412.0" r="1.1"/><circle cx="1093.1" cy="441.9" r="1.1"/><circle cx="1093.1" cy="471.8" r="1.1"/><circle cx="1093.1" cy="501.6" r="1.1"/><circle cx="1093.1" cy="531.5" r="1.1"/><circle cx="1093.1" cy="561.4" r="1.1"/><circle cx="1093.1" cy="591.2" r="1.1"/><circle cx="1093.1" cy="621.1" r="1.1"/><circle cx="1093.1" cy="651.0" r="1.1"/><circle cx="1123.0" cy="23.7" r="1.1"/><circle cx="1123.0" cy="53.6" r="1.1"/><circle cx="1123.0" cy="83.4" r="1.1"/><circle cx="1123.0" cy="113.3" r="1.1"/><circle cx="1123.0" cy="143.2" r="1.1"/><circle cx="1123.0" cy="173.0" r="1.1"/><circle cx="1123.0" cy="202.9" r="1.1"/><circle cx="1123.0" cy="232.8" r="1.1"/><circle cx="1123.0" cy="262.7" r="1.1"/><circle cx="1123.0" cy="292.5" r="1.1"/><circle cx="1123.0" cy="322.4" r="1.1"/><circle cx="1123.0" cy="352.3" r="1.1"/><circle cx="1123.0" cy="382.1" r="1.1"/><circle cx="1123.0" cy="412.0" r="1.1"/><circle cx="1123.0" cy="441.9" r="1.1"/><circle cx="1123.0" cy="471.8" r="1.1"/><circle cx="1123.0" cy="501.6" r="1.1"/><circle cx="1123.0" cy="531.5" r="1.1"/><circle cx="1123.0" cy="561.4" r="1.1"/><circle cx="1123.0" cy="591.2" r="1.1"/><circle cx="1123.0" cy="621.1" r="1.1"/><circle cx="1123.0" cy="651.0" r="1.1"/><circle cx="1152.9" cy="23.7" r="1.1"/><circle cx="1152.9" cy="53.6" r="1.1"/><circle cx="1152.9" cy="83.4" r="1.1"/><circle cx="1152.9" cy="113.3" r="1.1"/><circle cx="1152.9" cy="143.2" r="1.1"/><circle cx="1152.9" cy="173.0" r="1.1"/><circle cx="1152.9" cy="202.9" r="1.1"/><circle cx="1152.9" cy="232.8" r="1.1"/><circle cx="1152.9" cy="262.7" r="1.1"/><circle cx="1152.9" cy="292.5" r="1.1"/><circle cx="1152.9" cy="322.4" r="1.1"/><circle cx="1152.9" cy="352.3" r="1.1"/><circle cx="1152.9" cy="382.1" r="1.1"/><circle cx="1152.9" cy="412.0" r="1.1"/><circle cx="1152.9" cy="441.9" r="1.1"/><circle cx="1152.9" cy="471.8" r="1.1"/><circle cx="1152.9" cy="501.6" r="1.1"/><circle cx="1152.9" cy="531.5" r="1.1"/><circle cx="1152.9" cy="561.4" r="1.1"/><circle cx="1152.9" cy="591.2" r="1.1"/><circle cx="1152.9" cy="621.1" r="1.1"/><circle cx="1152.9" cy="651.0" r="1.1"/><circle cx="1182.7" cy="23.7" r="1.1"/><circle cx="1182.7" cy="53.6" r="1.1"/><circle cx="1182.7" cy="83.4" r="1.1"/><circle cx="1182.7" cy="113.3" r="1.1"/><circle cx="1182.7" cy="143.2" r="1.1"/><circle cx="1182.7" cy="173.0" r="1.1"/><circle cx="1182.7" cy="202.9" r="1.1"/><circle cx="1182.7" cy="232.8" r="1.1"/><circle cx="1182.7" cy="262.7" r="1.1"/><circle cx="1182.7" cy="292.5" r="1.1"/><circle cx="1182.7" cy="322.4" r="1.1"/><circle cx="1182.7" cy="352.3" r="1.1"/><circle cx="1182.7" cy="382.1" r="1.1"/><circle cx="1182.7" cy="412.0" r="1.1"/><circle cx="1182.7" cy="441.9" r="1.1"/><circle cx="1182.7" cy="471.8" r="1.1"/><circle cx="1182.7" cy="501.6" r="1.1"/><circle cx="1182.7" cy="531.5" r="1.1"/><circle cx="1182.7" cy="561.4" r="1.1"/><circle cx="1182.7" cy="591.2" r="1.1"/><circle cx="1182.7" cy="621.1" r="1.1"/><circle cx="1182.7" cy="651.0" r="1.1"/></g>
<defs><linearGradient id="xg" x1="0" x2="1" y1="0" y2="0"><stop offset="0" stop-color="#e4fbff"/><stop offset="0.5" stop-color="#ffffff"/><stop offset="1" stop-color="#ffeeb8"/></linearGradient></defs><path d="M586.6 -0.5 L606.6 -0.5 L607.9 2.3 L602.6 8.3 L600.2 8.3 L596.1 2.9 L592 8.3 L589.6 8.3 L585.2 2.3 Z" fill="url(#xg)"/>
<text transform="scale(0.92,1)" x="132.34 170.76 181.54 200.72 220.05 231.45 259.7 288.57 314.85 337.98 360.7" y="83.80" font-family='"DejaVu Sans", sans-serif' font-weight="700" font-size="35.12" fill="#ffffff" stroke="#ffffff" stroke-width="0.6" stroke-linejoin="miter">WILLINGNESS</text><text transform="scale(0.9,1)" x="402.09 425.03" y="83.80" font-family='"DejaVu Sans", sans-serif' font-weight="700" font-size="35.12" fill="#ffffff" stroke="#ffffff" stroke-width="0.6" stroke-linejoin="miter">TO</text><text transform="scale(0.84,1)" x="498.68 523.61 548.83" y="83.80" font-family='"DejaVu Sans", sans-serif' font-weight="700" font-size="35.12" fill="#ffffff" stroke="#ffffff" stroke-width="0.6" stroke-linejoin="miter">PAY</text>
<text transform="scale(0.89,1)" x="134.36 175.93 211.32 247.05 287.55 324.26 344.69 387.67" y="123.95" font-family='"DejaVu Sans", sans-serif' font-weight="700" font-size="55.97" fill="#f462a8" stroke="#f462a8" stroke-width="0.9" stroke-linejoin="miter">RELATIVE</text><text transform="scale(0.93,1)" x="420.23 456.06" y="123.95" font-family='"DejaVu Sans", sans-serif' font-weight="700" font-size="55.97" fill="#f462a8" stroke="#f462a8" stroke-width="0.9" stroke-linejoin="miter">TO</text><text transform="scale(0.935,1)" x="516.26 558.98 596.98" y="123.95" font-family='"DejaVu Sans", sans-serif' font-weight="700" font-size="55.97" fill="#f462a8" stroke="#f462a8" stroke-width="0.9" stroke-linejoin="miter">USA</text>
<line x1="269" y1="165.2" x2="957" y2="165.2" stroke="#5a6e9c" stroke-width="1.5" stroke-dasharray="2.7 2.7"/><line x1="269" y1="241.2" x2="957" y2="241.2" stroke="#5a6e9c" stroke-width="1.5" stroke-dasharray="2.7 2.7"/><line x1="270.5" y1="317.3" x2="960" y2="317.3" stroke="#5a6c97" stroke-width="1.8"/><line x1="269" y1="390.7" x2="957" y2="390.7" stroke="#5a6e9c" stroke-width="1.5" stroke-dasharray="2.7 2.7"/><line x1="269" y1="468.3" x2="957" y2="468.3" stroke="#5a6e9c" stroke-width="1.5" stroke-dasharray="2.7 2.7"/><line x1="269" y1="541.0" x2="957" y2="541.0" stroke="#5a6e9c" stroke-width="1.5" stroke-dasharray="2.7 2.7"/>
<g font-family="'Liberation Sans', sans-serif" font-size="19.3" fill="#6e81b0"><text x="241.3" y="172.6" text-anchor="end">40%</text><text x="241.3" y="248.6" text-anchor="end">20%</text><text x="241.3" y="324.7" text-anchor="end">0%</text><text x="241.3" y="398.1" text-anchor="end">-20%</text><text x="241.3" y="475.7" text-anchor="end">-40%</text><text x="241.3" y="548.4" text-anchor="end">-60%</text></g>
<line x1="320" y1="448" x2="320" y2="499.2" stroke="#ee6cb7" stroke-width="2.9"/><line x1="320" y1="499.2" x2="320" y2="535.6" stroke="#ee6cb7" stroke-width="2.9"/><circle cx="320" cy="448" r="5.7" fill="#ee6cb7"/><circle cx="320" cy="448" r="1.9" fill="#2a1f4a"/><circle cx="320" cy="535.6" r="5.7" fill="#ee6cb7"/><circle cx="320" cy="535.6" r="1.9" fill="#2a1f4a"/><circle cx="320" cy="499.2" r="5.8" fill="#172f57" stroke="#e68cd0" stroke-width="2.1"/><text x="333.7" y="505.7" textLength="63.4" lengthAdjust="spacingAndGlyphs" font-family="'Liberation Sans', sans-serif" font-weight="700" font-size="16.3" fill="#ffffff" stroke="#ffffff" stroke-width="0.45">-48.59%</text><line x1="436.5" y1="399.7" x2="436.5" y2="419.2" stroke="#ee6cb7" stroke-width="2.9"/><line x1="436.5" y1="419.2" x2="436.5" y2="432.9" stroke="#ee6cb7" stroke-width="2.9"/><circle cx="436.5" cy="399.7" r="5.7" fill="#ee6cb7"/><circle cx="436.5" cy="399.7" r="1.9" fill="#2a1f4a"/><circle cx="436.5" cy="432.9" r="5.7" fill="#ee6cb7"/><circle cx="436.5" cy="432.9" r="1.9" fill="#2a1f4a"/><circle cx="436.5" cy="419.2" r="5.8" fill="#172f57" stroke="#e68cd0" stroke-width="2.1"/><text x="447.2" y="424.7" textLength="61.4" lengthAdjust="spacingAndGlyphs" font-family="'Liberation Sans', sans-serif" font-weight="700" font-size="16.3" fill="#ffffff" stroke="#ffffff" stroke-width="0.45">-26.78%</text><line x1="558.3" y1="350.9" x2="557.5" y2="368.0" stroke="#ee6cb7" stroke-width="2.9"/><line x1="557.5" y1="368.0" x2="556.3" y2="403.1" stroke="#ee6cb7" stroke-width="2.9"/><circle cx="558.3" cy="350.9" r="5.7" fill="#ee6cb7"/><circle cx="558.3" cy="350.9" r="1.9" fill="#2a1f4a"/><circle cx="556.3" cy="403.1" r="5.7" fill="#ee6cb7"/><circle cx="556.3" cy="403.1" r="1.9" fill="#2a1f4a"/><circle cx="557.5" cy="368.0" r="5.8" fill="#172f57" stroke="#e68cd0" stroke-width="2.1"/><text x="570.7" y="374.5" textLength="62.2" lengthAdjust="spacingAndGlyphs" font-family="'Liberation Sans', sans-serif" font-weight="700" font-size="16.3" fill="#ffffff" stroke="#ffffff" stroke-width="0.45">-14.50%</text><line x1="675.5" y1="231.3" x2="675.2" y2="261.6" stroke="#ee6cb7" stroke-width="2.9"/><line x1="675.2" y1="261.6" x2="675.5" y2="275.5" stroke="#ee6cb7" stroke-width="2.9"/><circle cx="675.5" cy="231.3" r="5.7" fill="#ee6cb7"/><circle cx="675.5" cy="231.3" r="1.9" fill="#2a1f4a"/><circle cx="675.5" cy="275.5" r="5.7" fill="#ee6cb7"/><circle cx="675.5" cy="275.5" r="1.9" fill="#2a1f4a"/><circle cx="675.2" cy="261.6" r="5.8" fill="#172f57" stroke="#e68cd0" stroke-width="2.1"/><text x="690.3" y="269.6" textLength="51.0" lengthAdjust="spacingAndGlyphs" font-family="'Liberation Sans', sans-serif" font-weight="700" font-size="16.3" fill="#ffffff" stroke="#ffffff" stroke-width="0.45">14.96%</text><line x1="785.7" y1="223.6" x2="785.5" y2="246.8" stroke="#ee6cb7" stroke-width="2.9"/><line x1="785.5" y1="246.8" x2="785.7" y2="270.5" stroke="#ee6cb7" stroke-width="2.9"/><circle cx="785.7" cy="223.6" r="5.7" fill="#ee6cb7"/><circle cx="785.7" cy="223.6" r="1.9" fill="#2a1f4a"/><circle cx="785.7" cy="270.5" r="5.7" fill="#ee6cb7"/><circle cx="785.7" cy="270.5" r="1.9" fill="#2a1f4a"/><circle cx="785.5" cy="246.8" r="5.8" fill="#172f57" stroke="#e68cd0" stroke-width="2.1"/><text x="800.3" y="254.2" textLength="51.0" lengthAdjust="spacingAndGlyphs" font-family="'Liberation Sans', sans-serif" font-weight="700" font-size="16.3" fill="#ffffff" stroke="#ffffff" stroke-width="0.45">18.95%</text><line x1="900.4" y1="174.0" x2="900.4" y2="208.4" stroke="#ee6cb7" stroke-width="2.9"/><line x1="900.4" y1="208.4" x2="900.4" y2="246.1" stroke="#ee6cb7" stroke-width="2.9"/><circle cx="900.4" cy="174.0" r="5.7" fill="#ee6cb7"/><circle cx="900.4" cy="174.0" r="1.9" fill="#2a1f4a"/><circle cx="900.4" cy="246.1" r="5.7" fill="#ee6cb7"/><circle cx="900.4" cy="246.1" r="1.9" fill="#2a1f4a"/><circle cx="900.4" cy="208.4" r="5.8" fill="#172f57" stroke="#e68cd0" stroke-width="2.1"/><text x="912.9" y="214.9" textLength="55.7" lengthAdjust="spacingAndGlyphs" font-family="'Liberation Sans', sans-serif" font-weight="700" font-size="16.3" fill="#ffffff" stroke="#ffffff" stroke-width="0.45">28.58%</text>
<g font-family="'Liberation Sans', sans-serif" font-size="13.2" fill="#7789b8"><text x="288.7" y="560.6" textLength="68.8" lengthAdjust="spacingAndGlyphs">India/China</text><text x="407.7" y="560.6" textLength="61.9" lengthAdjust="spacingAndGlyphs">Eastern EU</text><text x="544.2" y="560.6" textLength="31.9" lengthAdjust="spacingAndGlyphs">Brazil</text><text x="669.2" y="560.6" textLength="17.9" lengthAdjust="spacingAndGlyphs">UK</text><text x="753.7" y="560.6" textLength="68.4" lengthAdjust="spacingAndGlyphs">Western EU</text><text x="880.5" y="560.6" textLength="45.3" lengthAdjust="spacingAndGlyphs">Nordics</text></g>
<text transform="scale(0.85,1)" x="341.53 414.01 472.86 535.68 605.94 667.87 702.44 776.04" y="696.00" font-family='"DejaVu Sans", sans-serif' font-weight="700" font-size="96.30" fill="none" stroke="#9fb2dc" stroke-width="1.35" vector-effect="non-scaling-stroke">RELATIVE</text><text transform="scale(0.91,1)" x="806.85 866.35" y="696.00" font-family='"DejaVu Sans", sans-serif' font-weight="700" font-size="96.30" fill="none" stroke="#9fb2dc" stroke-width="1.35" vector-effect="non-scaling-stroke">TO</text><text transform="scale(0.91,1)" x="972.33 1043.69 1106.14" y="696.00" font-family='"DejaVu Sans", sans-serif' font-weight="700" font-size="96.30" fill="none" stroke="#9fb2dc" stroke-width="1.35" vector-effect="non-scaling-stroke">USA</text>
<path d="M33.2 569.6 L44 567.6 L67.3 564.2 L72.8 603.2 L58 606.6 L29.5 601.4 Z" fill="#ffffff"/><path d="M40.9 568.6 C41.6 561.2 45 557.1 48.8 557.1 C52.8 557.1 56 559.6 57.3 564.6" fill="none" stroke="#ffffff" stroke-width="2.3"/><path d="M47 567.4 C47.7 562.6 49.4 559.9 51.3 559.9 C53.1 559.9 54.2 561.4 54.4 564.5" fill="none" stroke="#ffffff" stroke-width="1.9"/>
<text transform="scale(0.84,1)" x="93.68 115.37 142.03 166.64 194.07 206.79 222.25" y="598.0" font-family='"Liberation Sans", sans-serif' font-weight="700" font-style="italic" stroke="#ffffff" stroke-width="0.9" font-size="41.8" fill="#ffffff">shopify</text></svg>
</body></html>
